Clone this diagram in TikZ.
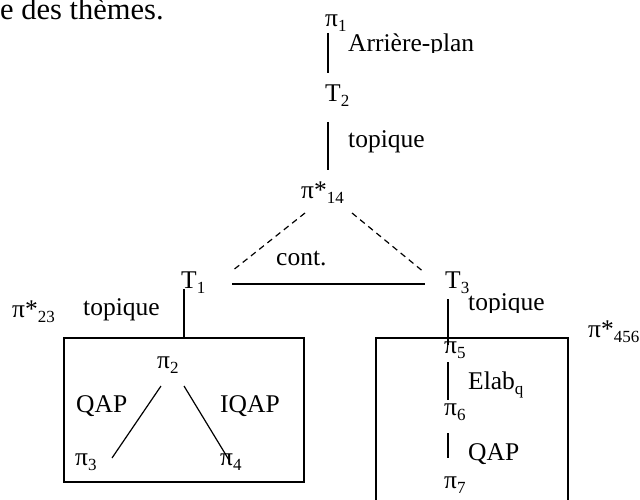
\documentclass[tikz,border=0pt]{standalone}
\usepackage{fontspec}
\setmainfont{Liberation Serif}
\newcommand\sbs[1]{\raisebox{-5pt}{\fontsize{17}{17}\selectfont #1}}
\begin{document}
\begin{tikzpicture}[x=1pt,y=-1pt,
  every node/.style={inner sep=0pt, anchor=base west, font=\fontsize{25.5}{30}\selectfont},
  edge/.style={line width=1.2pt},
  dashedge/.style={line width=1.2pt, dash pattern=on 6pt off 4.5pt},
  frame/.style={line width=1.3pt}]
\useasboundingbox (0,0) rectangle (640,500);
% text
\node[font=\fontsize{30.5}{34}\selectfont] (head) at (0,20) {e des thèmes.};
\node (p1) at (325,27) {π\sbs{1}};
\begin{scope}
  \clip (340,20) rectangle (480,53);
  \node (arr) at (348,52) {Arrière-plan};
\end{scope}
\node (t2) at (325,102) {T\sbs{2}};
\node (top1) at (348,148) {topique};
\node (p14) at (301,198) {π*\sbs{14}};
\node (cont) at (276,265) {cont.};
\node (t1) at (181,288) {T\sbs{1}};
\node (t3) at (445,288) {T\sbs{3}};
\node (p23) at (12,317) {π*\sbs{23}};
\node (topL) at (83,315) {topique};
\begin{scope}
  \clip (460,285) rectangle (560,312);
  \node (topR) at (468,310) {topique};
\end{scope}
\node (p456) at (588,337) {π*\sbs{456}};
\node (p2) at (157,368) {π\sbs{2}};
\node (qapL) at (76,412) {QAP};
\node (iqap) at (220,412) {IQAP};
\node (p3) at (75,465) {π\sbs{3}};
\node (p4) at (220,465) {π\sbs{4}};
\node (p5) at (444,353) {π\sbs{5}};
\node (elab) at (468,389) {Elab\sbs{q}};
\node (p6) at (444,415) {π\sbs{6}};
\node (qapR) at (468,460) {QAP};
\node (p7) at (444,488) {π\sbs{7}};
% boxes
\draw[frame] (64,338) rectangle (304,482);
\draw[frame] (376,501) -- (376,338) -- (568,338) -- (568,501);
% connector ends
\coordinate (a1) at (328,33);  \coordinate (a2) at (328,73);
\coordinate (b1) at (328,122); \coordinate (b2) at (328,170);
\coordinate (c1) at (305,213); \coordinate (c2) at (232,271);
\coordinate (d1) at (352,213); \coordinate (d2) at (425,273);
\coordinate (e1) at (232,284); \coordinate (e2) at (425,284);
\coordinate (f1) at (184,289); \coordinate (f2) at (184,338);
\coordinate (g1) at (448,299); \coordinate (g2) at (448,345);
\coordinate (h1) at (161,386); \coordinate (h2) at (112,458);
\coordinate (i1) at (184,386); \coordinate (i2) at (229,460);
\coordinate (j1) at (448,362); \coordinate (j2) at (448,400);
\coordinate (k1) at (448,433); \coordinate (k2) at (448,458);
% connectors
\draw[edge] (a1) -- (a2);
\draw[edge] (b1) -- (b2);
\draw[dashedge] (c1) -- (c2);
\draw[dashedge] (d1) -- (d2);
\draw[edge] (e1) -- (e2);
\draw[edge] (f1) -- (f2);
\draw[edge] (g1) -- (g2);
\draw[edge] (h1) -- (h2);
\draw[edge] (i1) -- (i2);
\draw[edge] (j1) -- (j2);
\draw[edge] (k1) -- (k2);
\end{tikzpicture}
\end{document}
